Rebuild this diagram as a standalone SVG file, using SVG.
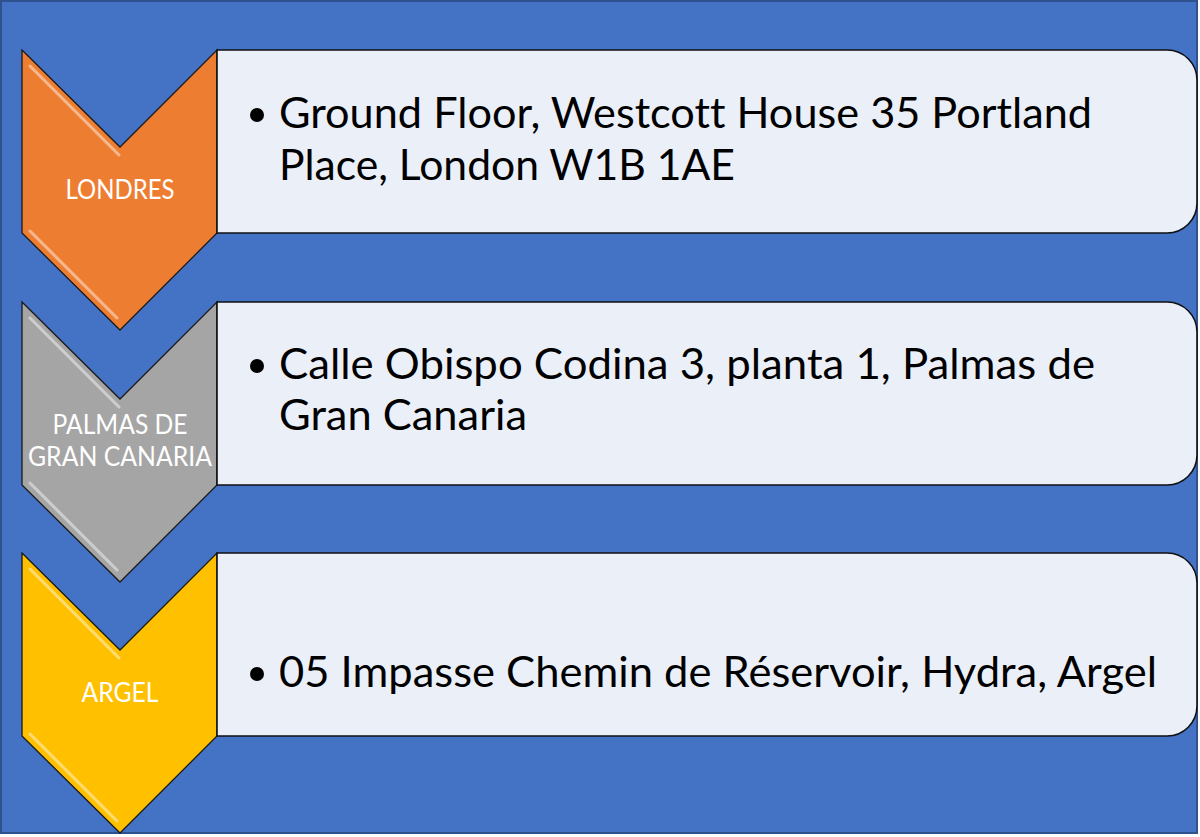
<svg xmlns="http://www.w3.org/2000/svg" width="1200" height="837" viewBox="0 0 1200 837">
<style>
.bg{fill:#4472C4;stroke:#2F528F;stroke-width:2}
.chev{stroke:#1a1a1a;stroke-width:1.3}
.box{fill:#EAEFF8;stroke:#111;stroke-width:1.6}
.hl{fill:none;stroke:#fff;stroke-opacity:0.45;stroke-width:3;stroke-linecap:round}
.lab{font-family:Lato,"Liberation Sans",sans-serif;font-size:26px;fill:#fff;text-anchor:middle;font-variant-ligatures:none}
.txt{font-family:Lato,"Liberation Sans",sans-serif;font-size:42px;fill:#000;font-variant-ligatures:none;font-feature-settings:"liga" 0,"clig" 0}
</style>
<rect class="bg" x="1" y="1" width="1196" height="832"/>
<g id="node-londres">
<path class="chev" fill="#ED7D31" d="M22,50 L120,147 L217,50 L217,233 L120,330 L22,233 Z"/>
<path class="hl" stroke="#FFC59A" d="M30,66 L119,155 M30,231 L117,318"/>
<text class="lab" x="120" y="199" textLength="109" lengthAdjust="spacingAndGlyphs">LONDRES</text>
</g>
<g id="box-londres">
<path class="box" d="M217,50 H1167 A30,30 0 0 1 1197,80 V203 A30,30 0 0 1 1167,233 H217 Z"/>
<circle cx="257" cy="115" r="7"/>
<text class="txt" x="279" y="128" textLength="813" lengthAdjust="spacingAndGlyphs">Ground Floor, Westcott House 35 Portland</text>
<text class="txt" x="279" y="180" textLength="456" lengthAdjust="spacingAndGlyphs">Place, London W1B 1AE</text>
</g>
<g id="node-palmas">
<path class="chev" fill="#A5A5A5" d="M22,302 L120,399 L217,302 L217,485 L120,582 L22,485 Z"/>
<path class="hl" d="M30,318 L119,407 M30,483 L117,570"/>
<text class="lab" x="120" y="434" textLength="135" lengthAdjust="spacingAndGlyphs">PALMAS DE</text>
<text class="lab" x="120" y="466" textLength="184" lengthAdjust="spacingAndGlyphs">GRAN CANARIA</text>
</g>
<g id="box-palmas">
<path class="box" d="M217,302 H1167 A30,30 0 0 1 1197,332 V455 A30,30 0 0 1 1167,485 H217 Z"/>
<circle cx="257" cy="366" r="7"/>
<text class="txt" x="279" y="379" textLength="816" lengthAdjust="spacingAndGlyphs">Calle Obispo Codina 3, planta 1, Palmas de</text>
<text class="txt" x="279" y="430" textLength="248" lengthAdjust="spacingAndGlyphs">Gran Canaria</text>
</g>
<g id="node-argel">
<path class="chev" fill="#FFC000" d="M22,553 L120,650 L217,553 L217,736 L120,833 L22,736 Z"/>
<path class="hl" stroke="#FFF3A0" d="M30,569 L119,658 M30,734 L117,821"/>
<text class="lab" x="120" y="702" textLength="77" lengthAdjust="spacingAndGlyphs">ARGEL</text>
</g>
<g id="box-argel">
<path class="box" d="M217,553 H1167 A30,30 0 0 1 1197,583 V706 A30,30 0 0 1 1167,736 H217 Z"/>
<circle cx="257" cy="674" r="7"/>
<text class="txt" x="279" y="687" textLength="878" lengthAdjust="spacingAndGlyphs">05 Impasse Chemin de Réservoir, Hydra, Argel</text>
</g>
<g id="connectors"/>
</svg>
